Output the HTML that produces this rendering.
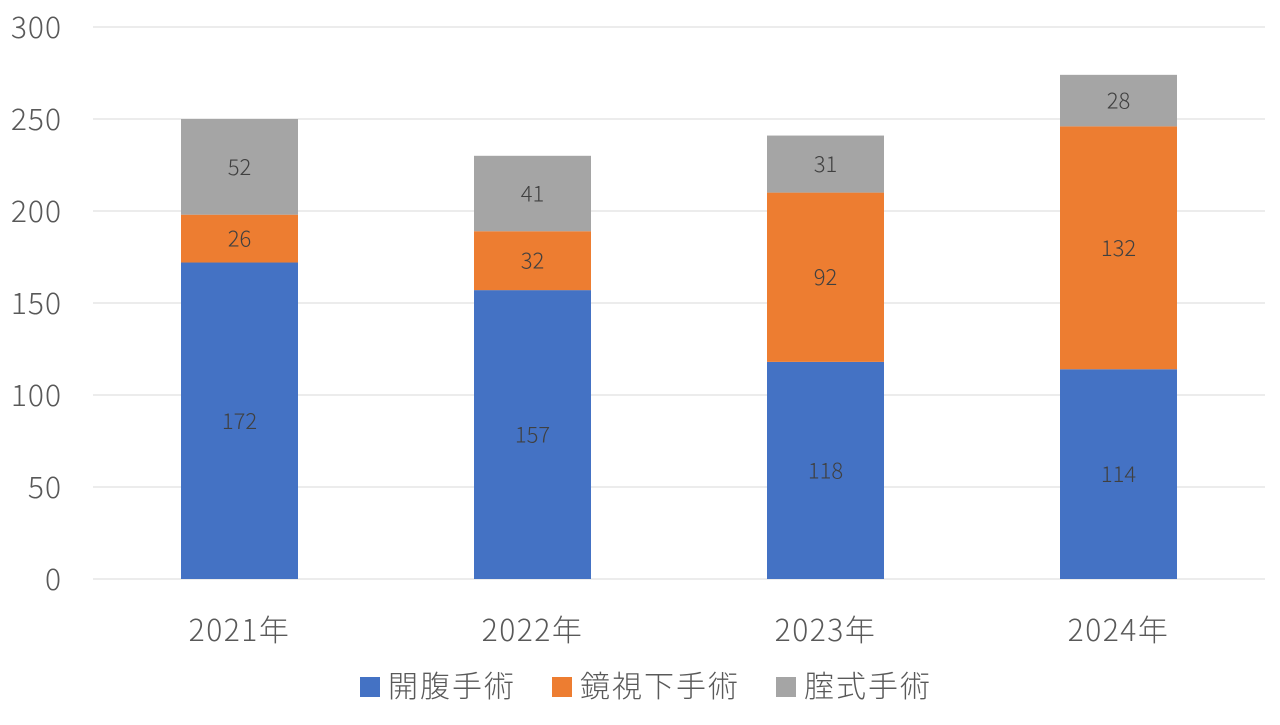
<!DOCTYPE html>
<html><head><meta charset="utf-8"><style>
body{margin:0;background:#fff;width:1280px;height:720px;overflow:hidden}
svg text{font-family:"Noto Sans CJK JP","Liberation Sans",sans-serif;font-weight:300}
</style></head><body>
<svg id="chart" width="1280" height="720"></svg>
<script>
const categories=["2021年","2022年","2023年","2024年"];
const seriesNames=["開腹手術","鏡視下手術","腟式手術"];
const seriesColors=["#4472C4","#ED7D31","#A5A5A5"];
const openValues=[172,157,118,114];
const laparoValues=[26,32,92,132];
const vaginalValues=[52,41,31,28];
const yTicks=[0,50,100,150,200,250,300];

const series=[openValues,laparoValues,vaginalValues];
const svg=document.getElementById('chart');
const NS='http://www.w3.org/2000/svg';
const x0=93,x1=1265,yBase=579,yTop=27,yMax=300;
const yS=v=>yBase-(v/yMax)*(yBase-yTop);
const band=(x1-x0)/categories.length;
const xC=i=>x0+band*(i+0.5);
const bw=117;
function mk(t,a,txt){const e=document.createElementNS(NS,t);for(const k in a)e.setAttribute(k,a[k]);if(txt!==undefined)e.textContent=txt;svg.appendChild(e);return e;}

yTicks.forEach(t=>{
  const g=mk('line',{x1:x0,x2:x1,y1:yS(t),y2:yS(t),stroke:'#D9D9D9','stroke-width':1});
  
  
  const l=mk('text',{x:62,y:yS(t)+11,'text-anchor':'end','font-size':30,'letter-spacing':1,fill:'#595959'},t);
  
  
});

categories.forEach((c,i)=>{
  let acc=0;
  series.forEach((s,j)=>{
    const v=s[i];
    const r=mk('rect',{x:xC(i)-bw/2,y:yS(acc+v),width:bw,height:yS(acc)-yS(acc+v),fill:seriesColors[j]});
    
    
    const t=mk('text',{x:xC(i),y:(yS(acc)+yS(acc+v))/2+8,'text-anchor':'middle','font-size':22,fill:'#404040'},v);
    
    
    acc+=v;
  });
  const xl=mk('text',{x:xC(i),y:641,'text-anchor':'middle','font-size':30,'letter-spacing':1.5,fill:'#595959'},c);
  
  
});

const legX=[360,552,776];
seriesNames.forEach((n,j)=>{
  const r=mk('rect',{x:legX[j],y:677,width:20,height:20,fill:seriesColors[j]});
  
  
  const t=mk('text',{x:legX[j]+28,y:697,'font-size':30,'letter-spacing':2,fill:'#595959'},n);
  
  
});
</script>
</body></html>
